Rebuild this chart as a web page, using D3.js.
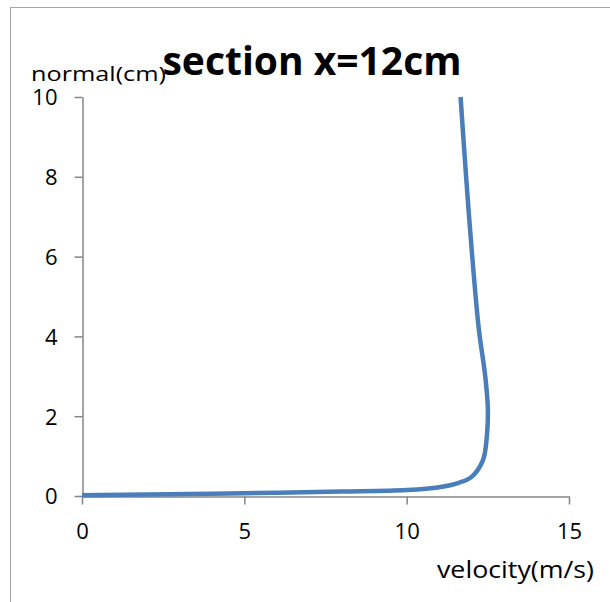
<!DOCTYPE html>
<html><head><meta charset="utf-8">
<script src="https://cdn.jsdelivr.net/npm/d3@7"></script>
<style>body{margin:0;background:#fff;} text{font-family:"Open Sans","Noto Sans",sans-serif;}</style>
</head><body>
<svg id="c" width="610" height="602"></svg>
<script>
const velocity = [0, 2, 5, 8, 10, 11, 11.6, 12.0, 12.35, 12.47, 12.5, 12.42, 12.22, 12.0, 11.84, 11.66];
const normal   = [0.02, 0.04, 0.07, 0.11, 0.15, 0.22, 0.33, 0.48, 0.9, 1.5, 2.2, 3.0, 4.2, 6.2, 7.9, 10];
const xTicks = [0, 5, 10, 15];
const yTicks = [0, 2, 4, 6, 8, 10];
const title = "section x=12cm";
const xLabel = "velocity(m/s)";
const yLabel = "normal(cm)";

const svg = d3.select("#c");
svg.append("rect").attr("x",10.5).attr("y",7.5).attr("width",640).attr("height",640)
  .attr("fill","none").attr("stroke","#a6a6a6").attr("stroke-width",1);

const x = d3.scaleLinear().domain([0,15]).range([82,569]);
const y = d3.scaleLinear().domain([0,10]).range([496,97]);

const gx = svg.append("g").attr("transform","translate(0,496.5)")
  .call(d3.axisBottom(x).tickValues(xTicks).tickSize(8).tickSizeOuter(0).tickPadding(19));
const gy = svg.append("g").attr("transform","translate(82.5,0)")
  .call(d3.axisLeft(y).tickValues(yTicks).tickSize(8).tickSizeOuter(0).tickPadding(17));
[gx,gy].forEach(g=>{
  g.selectAll("path,line").attr("stroke","#868686").attr("stroke-width",1.5);
  g.selectAll("text").attr("font-size",22).attr("fill","#000").attr("font-family","'Open Sans',sans-serif");
});
gy.selectAll("text").attr("dy","0.36em");

const line = d3.line().x(d=>x(d[0])).y(d=>y(d[1])).curve(d3.curveCatmullRom.alpha(0.5));
svg.append("path").datum(velocity.map((v,i)=>[v,normal[i]]))
  .attr("d",line).attr("fill","none").attr("stroke","#4a7ebb").attr("stroke-width",4.5);

svg.append("text").attr("x",31).attr("y",81).attr("font-size",20).attr("fill","#000")
  .attr("textLength",135).attr("lengthAdjust","spacingAndGlyphs").text(yLabel);
svg.append("text").attr("x",312).attr("y",75).attr("text-anchor","middle")
  .attr("font-size",39).attr("font-weight","bold").attr("fill","#000").text(title);
svg.append("text").attr("x",437).attr("y",578)
  .attr("font-size",23).attr("fill","#000")
  .attr("textLength",157).attr("lengthAdjust","spacingAndGlyphs").text(xLabel);
</script>
</body></html>
